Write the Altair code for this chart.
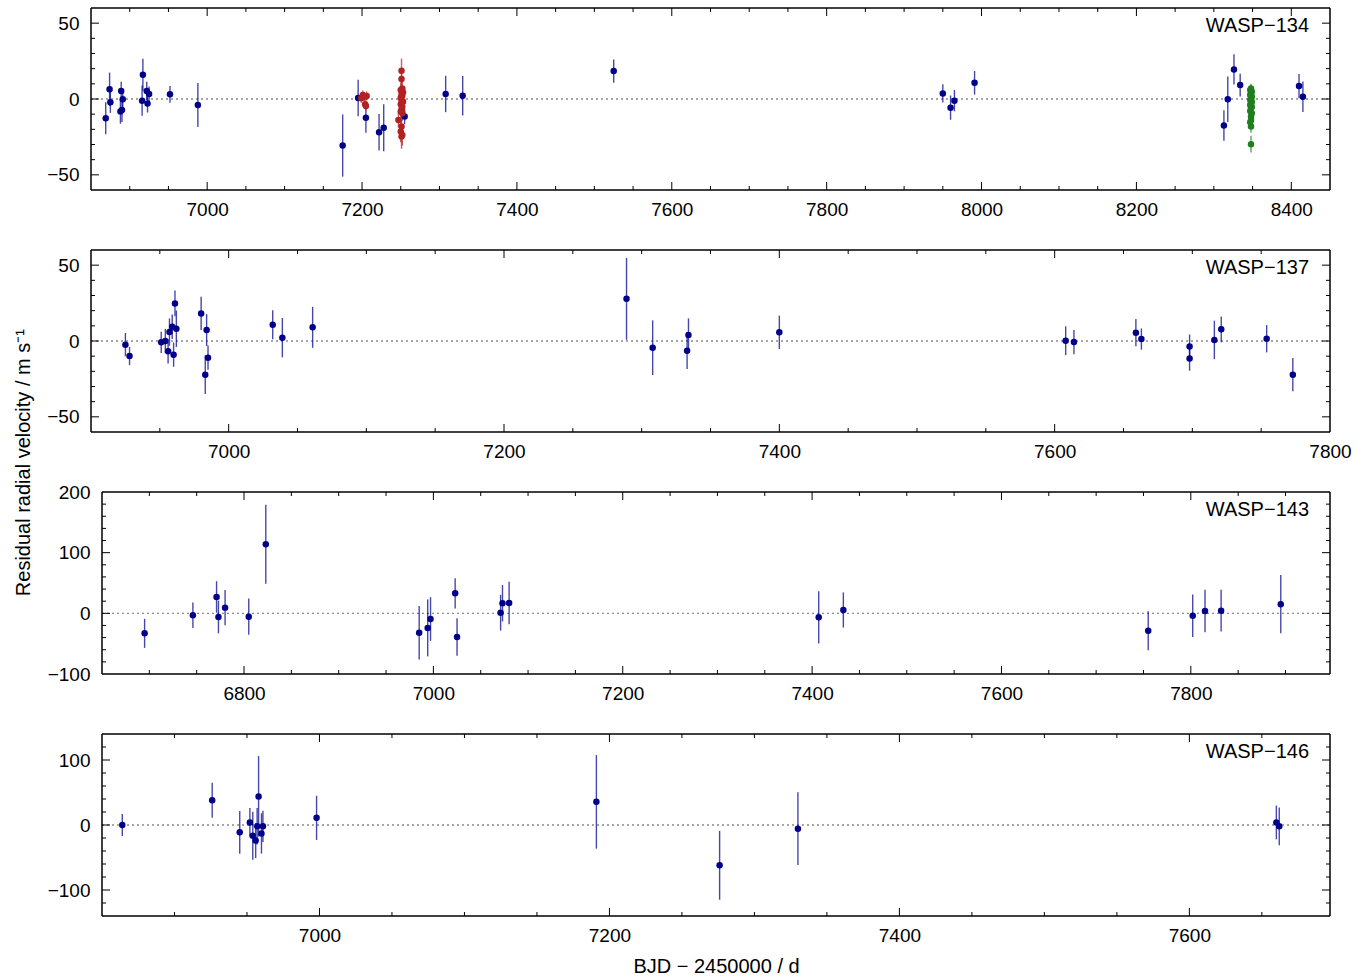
import altair as alt
import pandas as pd

FONT = "Liberation Sans"
BLUE = "#00008b"
RED = "#b22222"
GREEN = "#1f7f1f"

# ---------------- WASP-134 ----------------
W134_T = [6869, 6874, 6875, 6888, 6889, 6890, 6891, 6916, 6917, 6922, 6923, 6925, 6952, 6988,
          7175, 7195, 7205, 7222, 7228, 7255, 7308, 7330, 7525,
          7950, 7960, 7965, 7991, 8313, 8318, 8326, 8334, 8410, 8415]
W134_RV = [-12.7, 6.4, -2.2, -8.3, 5.3, -7.2, -0.2, -1.1, 16.0, 5.3, -2.9, 3.3, 3.1, -3.9,
           -30.7, 0.7, -12.3, -21.9, -18.9, -11.6, 3.3, 2.2, 18.4,
           3.7, -5.7, -1.1, 10.7, -17.5, -0.2, 19.5, 9.2, 8.5, 1.5]
W134_ERR = [10.5, 11, 7, 8, 6, 8, 6, 10, 10.5, 6, 6, 5, 5.5, 14.5,
            20.5, 12, 10, 12, 15.5, 5, 12, 13, 7.7,
            6, 8, 7, 7.8, 10, 15, 10, 7.5, 8, 10]

W134_RED_T = [7199, 7201, 7203, 7204, 7205, 7206,
              7251, 7251, 7252, 7250, 7253, 7251, 7252, 7250, 7251, 7253,
              7250, 7252, 7251, 7250, 7252, 7247, 7251, 7250, 7252, 7251]
W134_RED_RV = [0.5, 2.6, 1.5, -3.5, -4.6, 2.0,
               18.6, 13.2, 7.0, 5.9, 4.4, 3.1, 2.2, 0.9, -0.7, -1.8,
               -3.5, -5.1, -6.6, -8.3, -9.4, -13.8, -18.2, -21.5, -23.7, -24.8]
W134_RED_ERR = [3, 3, 3, 3, 3, 3,
                8, 6, 5, 5, 4, 5, 4, 5, 4, 5,
                4, 5, 5, 4, 5, 5, 6, 7, 7, 8]

W134_GRN_T = [8348, 8347, 8349, 8348, 8347, 8349, 8348, 8347, 8349, 8348,
              8347, 8349, 8348, 8347, 8349, 8348, 8348, 8347, 8348, 8348]
W134_GRN_RV = [7.0, 5.9, 4.8, 3.7, 2.6, 1.5, 0.4, -0.7, -1.8, -2.9,
               -4.0, -5.1, -6.1, -7.9, -9.4, -11.6, -13.8, -15.4, -18.2, -29.8]
W134_GRN_ERR = [3, 3, 3, 3, 3, 3, 3, 3, 3, 3,
                3, 3, 3, 3, 3, 3.5, 3.5, 4, 4, 5.5]

# ---------------- WASP-137 ----------------
W137_T = [6925, 6928, 6951, 6954, 6956, 6957, 6959, 6960, 6961, 6962,
          6980, 6983, 6984, 6985, 7032, 7039, 7061,
          7289, 7308, 7333, 7334, 7400,
          7608, 7614, 7659, 7663, 7698, 7698, 7716, 7721, 7754, 7773]
W137_RV = [-2.4, -9.9, -0.9, 0.0, -6.8, 5.9, 9.4, -9.0, 24.8, 8.1,
           18.2, -22.2, 7.2, -11.0, 10.7, 2.2, 9.0,
           27.8, -4.4, -6.4, 3.9, 5.7,
           0.2, -0.7, 5.5, 1.3, -3.7, -11.6, 0.7, 7.7, 1.5, -22.2]
W137_ERR = [7.7, 6, 7, 8, 8, 9, 8, 8, 8.5, 12,
            11, 12.8, 10.5, 8, 9.5, 13, 13.5,
            27, 18, 12, 11, 11,
            9.5, 8, 9, 7, 8, 8, 12.7, 8.5, 9, 11]

# ---------------- WASP-143 ----------------
W143_T = [6695, 6746, 6771, 6773, 6780, 6805, 6823, 6985, 6994, 6997, 7023,
          7025, 7071, 7073, 7080, 7407, 7433, 7755, 7802, 7815, 7832, 7895]
W143_RV = [-33, -3.3, 27, -6, 9.4, -5.5, 113.8, -32, -24, -9.4, 33,
           -39, 1, 16.6, 17, -6.6, 5.5, -28.7, -3.9, 3.9, 4.4, 15]
W143_ERR = [24, 21, 26, 27, 29, 30, 65, 44, 47, 36, 25,
            31, 29.5, 30, 35, 43, 29, 32, 35, 35, 34.5, 48]

# ---------------- WASP-146 ----------------
W146_T = [6864, 6926, 6945, 6952, 6954, 6956, 6957, 6958, 6960, 6961, 6998,
          7191, 7276, 7330, 7660, 7662]
W146_RV = [0, 38, -11.3, 4, -16.5, -24, -2, 44, -13, -2, 11,
           35.6, -62, -5.7, 4, -2]
W146_ERR = [17, 27, 33, 22, 37, 27, 28, 62, 31, 24, 34,
            72, 53, 56, 26, 29]

H = 182
W = 1239
LABEL_FS = 19


def steps(a, b, step):
    out = []
    v = a
    while v <= b + 1e-9:
        out.append(v)
        v += step
    return out


def panel(label, sets, xdom, ydom, xstep, ystep, xlab, ylab, xoff=0, xtitle=None):
    rows = []
    for key, T, RV, ERR in sets:
        for t, rv, e in zip(T, RV, ERR):
            rows.append({"t": t, "rv": rv, "lo": rv - e, "hi": rv + e, "set": key})
    df = pd.DataFrame(rows)

    xs = alt.Scale(domain=xdom, range=[xoff, W], nice=False, zero=False)
    ys = alt.Scale(domain=ydom, nice=False, zero=False)

    xkw = dict(values=xlab, format="d", ticks=False, tickSize=0, domain=False,
               grid=False, labelPadding=10, labelFontSize=LABEL_FS, labelFlush=False,
               title=xtitle)
    if xtitle:
        xkw["titlePadding"] = 11
    xaxis = alt.Axis(**xkw)
    ykw = dict(values=list(ylab), format="d", ticks=False, tickSize=0, domain=False,
               grid=False, labelPadding=12, labelFontSize=LABEL_FS, labelFlush=False,
               title=None)
    if xoff:
        ykw["offset"] = -xoff
    yaxis = alt.Axis(**ykw)

    def X(f):
        return alt.X(f, type="quantitative", scale=xs, axis=xaxis)

    def Y(f):
        return alt.Y(f, type="quantitative", scale=ys, axis=yaxis)

    col = alt.Color("set:N", scale=alt.Scale(domain=["b", "r", "g"], range=[BLUE, RED, GREEN]),
                    legend=None)

    one = pd.DataFrame({"z": [0]})
    zero = alt.Chart(one).mark_rule(
        color="#8a8a8a", strokeDash=[2, 3], strokeWidth=1.3).encode(
        y=Y("z"), x=alt.value(xoff), x2=alt.value(W))
    err = alt.Chart(df).mark_rule(strokeWidth=1.4, opacity=0.72).encode(
        x=X("t"), y=Y("lo"), y2="hi", color=col)
    pts = alt.Chart(df).mark_circle(size=42, opacity=1).encode(
        x=X("t"), y=Y("rv"), color=col)

    # frame
    fr = dict(color="black", strokeWidth=1.5)
    frame = [
        alt.Chart(one).mark_rule(**fr).encode(x=alt.value(xoff), y=alt.value(0), y2=alt.value(H)),
        alt.Chart(one).mark_rule(**fr).encode(x=alt.value(W), y=alt.value(0), y2=alt.value(H)),
        alt.Chart(one).mark_rule(**fr).encode(y=alt.value(0), x=alt.value(xoff), x2=alt.value(W)),
        alt.Chart(one).mark_rule(**fr).encode(y=alt.value(H), x=alt.value(xoff), x2=alt.value(W)),
    ]

    # inward ticks (major / minor) on all four sides
    eps = 1e-6
    xmaj = [v for v in steps(xdom[0], xdom[1], xstep) if v % (4 * xstep) == 0
            and xdom[0] + eps < v < xdom[1] - eps]
    xmin = [v for v in steps(xdom[0], xdom[1], xstep) if v % (4 * xstep) != 0
            and xdom[0] + eps < v < xdom[1] - eps]
    ymaj = [v for v in steps(ydom[0], ydom[1], ystep) if v % (5 * ystep) == 0
            and ydom[0] + eps < v < ydom[1] - eps]
    ymin = [v for v in steps(ydom[0], ydom[1], ystep) if v % (5 * ystep) != 0
            and ydom[0] + eps < v < ydom[1] - eps]

    def xt(vals, y0, y1):
        return alt.Chart(pd.DataFrame({"v": vals})).mark_rule(
            color="black", strokeWidth=1).encode(x=X("v"), y=alt.value(y0), y2=alt.value(y1))

    def yt(vals, x0, x1):
        return alt.Chart(pd.DataFrame({"v": vals})).mark_rule(
            color="black", strokeWidth=1).encode(y=Y("v"), x=alt.value(x0), x2=alt.value(x1))

    MJ, MN = 8, 4
    ticks = [xt(xmaj, 0, MJ), xt(xmaj, H - MJ, H), xt(xmin, 0, MN), xt(xmin, H - MN, H),
             yt(ymaj, xoff, xoff + MJ), yt(ymaj, W - MJ, W),
             yt(ymin, xoff, xoff + MN), yt(ymin, W - MN, W)]

    txt = alt.Chart(pd.DataFrame({"s": [label]})).mark_text(
        align="right", baseline="middle", fontSize=20, font=FONT, color="black").encode(
        x=alt.value(W - 21), y=alt.value(18), text="s:N")

    return alt.layer(zero, err, pts, *ticks, *frame, txt).properties(width=W, height=H)


p1 = panel("WASP\u2212134",
           [("b", W134_T, W134_RV, W134_ERR),
            ("r", W134_RED_T, W134_RED_RV, W134_RED_ERR),
            ("g", W134_GRN_T, W134_GRN_RV, W134_GRN_ERR)],
           [6850, 8450], [-60, 60], 50, 10,
           [7000, 7200, 7400, 7600, 7800, 8000, 8200, 8400], [-50, 0, 50])
p2 = panel("WASP\u2212137", [("b", W137_T, W137_RV, W137_ERR)],
           [6900, 7800], [-60, 60], 50, 10,
           [7000, 7200, 7400, 7600, 7800], [-50, 0, 50])
p3 = panel("WASP\u2212143", [("b", W143_T, W143_RV, W143_ERR)],
           [6650, 7947], [-100, 200], 50, 20,
           [6800, 7000, 7200, 7400, 7600, 7800], [-100, 0, 100, 200], xoff=11)
p4 = panel("WASP\u2212146", [("b", W146_T, W146_RV, W146_ERR)],
           [6850, 7697], [-140, 140], 50, 20,
           [7000, 7200, 7400, 7600], [-100, 0, 100], xoff=11,
           xtitle="BJD \u2212 2450000 / d")

chart = alt.concat(p1, p2, p3, p4, columns=1, spacing=60, bounds="flush").properties(
    title=alt.TitleParams(text="Residual radial velocity / m s\u207b\u00b9", orient="left",
                          anchor="middle", fontSize=20, font=FONT, fontWeight="normal",
                          color="black", offset=13, dx=29),
    padding={"left": 13, "top": 7, "right": 5, "bottom": 3},
).configure_view(strokeWidth=0).configure_axis(
    labelFont=FONT, titleFont=FONT, labelColor="black", titleColor="black",
    titleFontWeight="normal", titleFontSize=20, labelFontSize=LABEL_FS)

chart.save("out.html", embed_options={"renderer": "svg", "actions": False})
